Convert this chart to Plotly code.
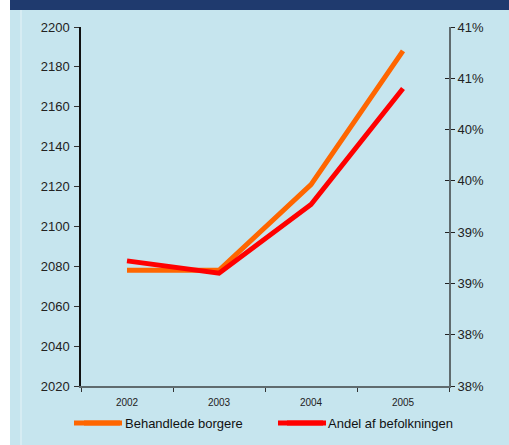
import plotly.graph_objects as go

years = ["2002", "2003", "2004", "2005"]
behandlede = [2078, 2078, 2121, 2188]
andel = [0.3922, 0.3910, 0.3977, 0.4090]

left_ticks = [2020, 2040, 2060, 2080, 2100, 2120, 2140, 2160, 2180, 2200]
right_tickvals = [0.38, 0.385, 0.39, 0.395, 0.40, 0.405, 0.41, 0.415]
right_ticktext = ["38%", "38%", "39%", "39%", "40%", "40%", "41%", "41%"]

ORANGE, RED = "#FF6600", "#FF0000"
W, H = 509, 445
L, R, T, B = 81, 449, 27, 386
pw, ph = R - L, B - T

def px(x):
    return (x - L) / pw

def py(y):
    return (B - y) / ph

font = "Liberation Sans, Arial, sans-serif"
fig = go.Figure()
fig.add_trace(go.Scatter(x=years, y=behandlede, name="Behandlede borgere", mode="lines",
                         line=dict(color=ORANGE, width=5), yaxis="y"))
fig.add_trace(go.Scatter(x=years, y=andel, name="Andel af befolkningen", mode="lines",
                         line=dict(color=RED, width=5), yaxis="y2"))
fig.add_trace(go.Scatter(x=years, y=andel, yaxis="y3", mode="lines", line=dict(width=0),
                         showlegend=False, hoverinfo="skip", opacity=0))

shapes = [
    dict(type="rect", xref="paper", yref="paper", x0=px(0), x1=px(10), y0=py(H), y1=py(0),
         fillcolor="white", line_width=0, layer="below"),
    dict(type="rect", xref="paper", yref="paper", x0=px(10), x1=px(W), y0=py(10), y1=py(0),
         fillcolor="#1F3A6E", line_width=0, layer="below"),
    dict(type="line", xref="paper", yref="paper", x0=px(21), x1=px(21), y0=py(H), y1=py(10),
         line=dict(color="#E6F3F7", width=1), layer="below"),
    # lengthen legend samples to the reference's longer keys
    dict(type="line", xref="paper", yref="paper", x0=px(74), x1=px(122), y0=py(423), y1=py(423),
         line=dict(color=ORANGE, width=5)),
    dict(type="line", xref="paper", yref="paper", x0=px(278), x1=px(326), y0=py(423), y1=py(423),
         line=dict(color=RED, width=5)),
]

fig.update_layout(
    width=W, height=H,
    margin=dict(l=L, r=W - R, t=T, b=H - B, autoexpand=False),
    paper_bgcolor="#C6E5EE", plot_bgcolor="#C6E5EE",
    font=dict(family=font, color="#222222", size=13),
    shapes=shapes,
    showlegend=True,
    legend=dict(orientation="h", x=px(79), xanchor="left", y=py(423), yanchor="middle",
                font=dict(size=13, family=font, color="#111111"), itemwidth=36,
                entrywidth=152, entrywidthmode="pixels", bgcolor="rgba(0,0,0,0)",
                traceorder="normal"),
    xaxis=dict(type="category", range=[-0.5, 3.5], showline=True, linecolor="#5F6B6E", linewidth=2,
               ticks="outside", tickson="boundaries", ticklen=4, tickcolor="#333333",
               showgrid=False, zeroline=False, tickfont=dict(size=10, color="#222222"),
               ticklabelstandoff=6),
    yaxis=dict(range=[2020, 2200], tickvals=left_ticks, showline=True, linecolor="#111111", linewidth=1.5,
               ticks="outside", ticklen=5, tickcolor="#333333", showgrid=False, zeroline=False,
               tickfont=dict(size=13), ticklabelstandoff=2),
    yaxis2=dict(range=[0.38, 0.415], tickvals=right_tickvals, ticktext=right_ticktext,
                overlaying="y", side="right", anchor="x", showline=True, linecolor="#5F6B6E", linewidth=2,
                ticks="outside", ticklen=4, tickcolor="#222222", showgrid=False, zeroline=False,
                tickfont=dict(size=13)),
    yaxis3=dict(range=[0.38, 0.415], tickvals=right_tickvals, overlaying="y", side="right", anchor="x",
                showline=False, ticks="inside", ticklen=4, tickcolor="#222222", showgrid=False,
                zeroline=False, showticklabels=False),
)
fig.write_html("out.html", config={"displayModeBar": False},
               post_script="document.body.style.margin='0';")
